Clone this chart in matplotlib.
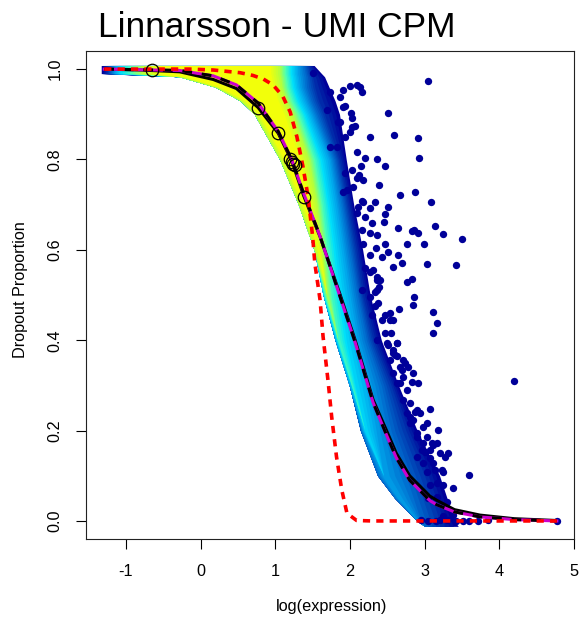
import matplotlib
matplotlib.use('Agg')
import matplotlib.pyplot as plt
import matplotlib.colors as mcolors
import numpy as np

plt.rcParams['font.family'] = ['Liberation Sans', 'DejaVu Sans']

# ---------------- data ----------------
title = "Linnarsson - UMI CPM"
xlabel = "log(expression)"
ylabel = "Dropout Proportion"
xticks = [-1, 0, 1, 2, 3, 4, 5]
yticks = [0.0, 0.2, 0.4, 0.6, 0.8, 1.0]

# dense point cloud, described as nested density regions (outer -> inner)
band_y = [1.008, 0.99, 0.983, 0.96, 0.93, 0.9, 0.8, 0.7, 0.6, 0.5, 0.4, 0.3, 0.2, 0.1, 0.05, 0.0, -0.012]
lvl0_left  = [-1.33, -1.33, -0.28, 0.20, 0.53, 0.72, 1.06, 1.31, 1.52, 1.64, 1.80, 1.99, 2.14, 2.37, 2.60, 2.90, 3.00]
lvl0_right = [1.52, 1.62, 1.66, 1.72, 1.80, 1.86, 1.95, 2.05, 2.17, 2.27, 2.42, 2.65, 2.90, 3.20, 3.30, 3.40, 3.45]
lvl1_left  = [-1.25, -1.25, -0.28, 0.20, 0.53, 0.72, 1.06, 1.31, 1.52, 1.64, 1.80, 1.99, 2.14, 2.37, 2.60, 2.90, 3.00]
lvl1_right = [1.45, 1.48, 1.50, 1.53, 1.58, 1.66, 1.86, 1.97, 2.08, 2.17, 2.31, 2.55, 2.75, 3.00, 3.10, 3.20, 3.20]
lvl2_left  = [-1.20, -1.20, -0.28, 0.20, 0.53, 0.72, 1.06, 1.31, 1.52, 1.64, 1.80, 1.99, 2.14, 2.37, 2.60, 2.90, 3.00]
lvl2_right = [1.38, 1.40, 1.41, 1.42, 1.48, 1.56, 1.79, 1.90, 2.00, 2.10, 2.22, 2.42, 2.55, 2.75, 2.85, 2.95, 3.00]
lvl3_left  = [-1.15, -1.15, -0.28, 0.20, 0.53, 0.72, 1.06, 1.31, 1.52, 1.64, 1.80, 1.99, 2.17, 2.45, 2.65, 2.90, 3.00]
lvl3_right = [1.30, 1.30, 1.31, 1.33, 1.40, 1.48, 1.72, 1.82, 1.91, 2.00, 2.10, 2.25, 2.35, 2.45, 2.65, 2.90, 3.00]
lvl4_left  = [-1.08, -1.08, -0.28, 0.20, 0.53, 0.72, 1.06, 1.31, 1.52, 1.64, 1.82, 2.02, 2.20, 2.45, 2.65, 2.90, 3.00]
lvl4_right = [1.22, 1.22, 1.23, 1.25, 1.31, 1.40, 1.62, 1.72, 1.80, 1.87, 1.95, 2.07, 2.20, 2.45, 2.65, 2.90, 3.00]
lvl5_left  = [-0.95, -0.95, -0.28, 0.20, 0.53, 0.72, 1.06, 1.31, 1.52, 1.66, 1.84, 2.02, 2.20, 2.45, 2.65, 2.90, 3.00]
lvl5_right = [1.14, 1.14, 1.15, 1.17, 1.23, 1.32, 1.53, 1.63, 1.70, 1.75, 1.84, 2.02, 2.20, 2.45, 2.65, 2.90, 3.00]
lvl6_left  = [-0.80, -0.80, -0.28, 0.20, 0.53, 0.72, 1.06, 1.31, 1.52, 1.69, 1.84, 2.02, 2.20, 2.45, 2.65, 2.90, 3.00]
lvl6_right = [1.06, 1.06, 1.07, 1.09, 1.15, 1.24, 1.45, 1.56, 1.63, 1.69, 1.84, 2.02, 2.20, 2.45, 2.65, 2.90, 3.00]
lvl7_left  = [-0.60, -0.60, -0.20, 0.26, 0.60, 0.79, 1.12, 1.37, 1.58, 1.69, 1.84, 2.02, 2.20, 2.45, 2.65, 2.90, 3.00]
lvl7_right = [0.94, 0.94, 0.95, 0.98, 1.04, 1.12, 1.33, 1.46, 1.58, 1.69, 1.84, 2.02, 2.20, 2.45, 2.65, 2.90, 3.00]
level_colors = ['#000099', '#0038B0', '#0070D0', '#00A8EC', '#00E0FA', '#50FFB0', '#B8FF38', '#F2FF0A']

# sparse low-density genes (individual points)
sparse_x = [1.509, 3.040, 2.513, 2.268, 2.593, 2.910, 2.928, 2.361, 2.465, 2.391, 2.673, 2.866, 3.080, 2.335,
            2.513, 2.469, 2.459, 2.639, 2.861, 2.914, 2.826, 3.138, 3.249, 3.495, 2.995, 2.759, 2.344, 2.469,
            2.513, 2.647, 2.424, 3.037, 3.419, 2.703, 2.580, 2.268, 2.357, 2.759, 2.826, 2.392, 2.335, 2.861,
            2.839, 2.660, 2.535, 3.115, 2.580, 2.469, 3.161, 3.107, 2.545, 2.469, 2.625, 2.513, 2.335, 2.290,
            2.602, 2.714, 2.692, 2.780, 2.847, 2.914, 2.826, 2.669, 4.195, 3.071, 2.937, 2.870, 3.027, 3.182,
            2.803, 2.893, 2.981, 3.094, 3.205, 3.316, 3.071, 3.004, 3.138, 3.249, 3.027, 3.597, 3.383, 3.249,
            3.071, 3.161, 3.294, 3.048, 3.383, 3.517, 3.718, 3.249, 4.767, 3.272, 3.228, 2.960, 3.115, 2.736,
            2.803, 2.625, 2.580, 3.205,
            2.134, 2.157, 2.000, 1.866, 1.933, 2.013, 2.023, 2.067, 1.843, 2.000, 2.090, 2.201, 2.147, 2.023,
            2.124, 2.178, 1.910, 2.044, 2.157, 2.090, 1.910, 1.732, 1.688, 1.910, 2.023, 1.866, 1.933, 1.732,
            1.822, 2.090, 1.933, 1.956, 2.178, 2.111, 2.268, 2.201, 2.290, 2.090, 2.157, 2.268, 2.357, 2.178,
            2.268, 2.201, 2.357, 2.157,
            2.312, 2.402, 2.357, 2.268, 2.379, 2.424, 2.535, 2.357, 2.491, 2.580, 2.625, 2.535, 2.669, 2.580,
            2.714, 2.625, 2.759, 2.714, 2.803, 2.893, 2.759, 2.847, 2.981, 2.893, 3.027, 3.071, 3.161, 2.893,
            2.981, 3.115, 3.161,
            2.95, 3.05, 3.15, 3.30, 3.42, 3.60, 3.85]
sparse_y = [0.992, 0.973, 0.902, 0.850, 0.854, 0.848, 0.804, 0.802, 0.785, 0.744, 0.721, 0.727, 0.705, 0.706,
            0.695, 0.679, 0.662, 0.649, 0.644, 0.637, 0.642, 0.653, 0.634, 0.623, 0.613, 0.612, 0.603, 0.612,
            0.596, 0.588, 0.585, 0.568, 0.566, 0.570, 0.561, 0.552, 0.533, 0.529, 0.535, 0.517, 0.507, 0.495,
            0.478, 0.468, 0.461, 0.463, 0.445, 0.456, 0.437, 0.415, 0.417, 0.415, 0.394, 0.389, 0.476, 0.456,
            0.367, 0.356, 0.334, 0.341, 0.327, 0.306, 0.308, 0.305, 0.310, 0.247, 0.238, 0.242, 0.216, 0.201,
            0.216, 0.194, 0.172, 0.172, 0.151, 0.150, 0.139, 0.153, 0.113, 0.109, 0.109, 0.102, 0.072, 0.080,
            0.080, 0.054, 0.043, 0.050, 0.013, 0.001, 0.000, 0.010, 0.000, 0.142, 0.113, 0.157, 0.168, 0.349,
            0.231, 0.393, 0.371, 0.002,
            0.961, 0.950, 0.963, 0.939, 0.919, 0.903, 0.891, 0.874, 0.883, 0.860, 0.817, 0.804, 0.786, 0.777,
            0.765, 0.754, 0.729, 0.740, 0.708, 0.965, 0.954, 0.950, 0.909, 0.917, 0.872, 0.883, 0.850, 0.828,
            0.828, 0.758, 0.769, 0.732, 0.706, 0.695, 0.692, 0.673, 0.659, 0.681, 0.644, 0.637, 0.633, 0.614,
            0.588, 0.559, 0.540, 0.511,
            0.555, 0.533, 0.511, 0.496, 0.482, 0.445, 0.445, 0.400, 0.393, 0.378, 0.364, 0.356, 0.341, 0.327,
            0.319, 0.305, 0.290, 0.268, 0.260, 0.246, 0.238, 0.223, 0.209, 0.186, 0.186, 0.157, 0.172, 0.142,
            0.128, 0.128, 0.083,
            0.003, 0.000, 0.000, 0.002, 0.000, 0.000, 0.002]

# fitted curves
mm_x = [-1.29, -0.80, -0.28, 0.17, 0.48, 0.77, 1.04, 1.22, 1.38, 1.60, 1.87, 2.07, 2.31, 2.49, 2.62, 2.80, 3.07, 3.16, 3.40, 3.74, 4.20, 4.77]
mm_y = [1.000, 0.998, 0.994, 0.977, 0.957, 0.915, 0.858, 0.797, 0.720, 0.629, 0.500, 0.400, 0.268, 0.200, 0.150, 0.100, 0.055, 0.046, 0.025, 0.013, 0.005, 0.001]
alt_x = [-1.29, -0.28, 0.17, 0.48, 0.77, 1.04, 1.22, 1.38, 1.60, 1.87, 2.07, 2.31, 2.49, 2.62, 2.80, 3.07, 3.16, 3.40, 3.74, 4.20, 4.77]
alt_y = [1.000, 0.997, 0.985, 0.965, 0.925, 0.862, 0.800, 0.725, 0.630, 0.495, 0.395, 0.262, 0.190, 0.140, 0.090, 0.045, 0.036, 0.020, 0.009, 0.003, 0.000]
zifa_x = [-1.29, -0.14, 0.17, 0.53, 0.70, 0.84, 0.97, 1.10, 1.20, 1.29, 1.37, 1.44, 1.50, 1.53, 1.60, 1.64, 1.71, 1.755, 1.82, 1.89, 1.96, 2.09, 2.30, 4.77]
zifa_y = [1.000, 1.000, 0.998, 0.992, 0.986, 0.978, 0.965, 0.940, 0.905, 0.850, 0.785, 0.717, 0.630, 0.570, 0.489, 0.408, 0.305, 0.231, 0.142, 0.069, 0.017, 0.001, 0.000, 0.000]

# highlighted genes (open circles)
hl_x = [-0.655, 0.772, 1.040, 1.197, 1.220, 1.241, 1.264, 1.384]
hl_y = [0.999, 0.913, 0.858, 0.802, 0.795, 0.791, 0.788, 0.716]

# ---------------- drawing ----------------
fig = plt.figure(figsize=(5.81, 6.20), dpi=100)
ax = fig.add_axes([0.148, 0.1306, 0.840, 0.7871])

levels = [(lvl0_left, lvl0_right), (lvl1_left, lvl1_right), (lvl2_left, lvl2_right),
          (lvl3_left, lvl3_right), (lvl4_left, lvl4_right), (lvl5_left, lvl5_right),
          (lvl6_left, lvl6_right), (lvl7_left, lvl7_right)]

# smooth the density shading: blend between neighbouring density regions
n_sub = 4
for k in range(len(levels)):
    lft0, rgt0 = np.array(levels[k][0]), np.array(levels[k][1])
    c0 = np.array(mcolors.to_rgb(level_colors[k]))
    if k + 1 < len(levels):
        lft1, rgt1 = np.array(levels[k + 1][0]), np.array(levels[k + 1][1])
        c1 = np.array(mcolors.to_rgb(level_colors[k + 1]))
        steps = n_sub
    else:
        lft1, rgt1, c1, steps = lft0, rgt0, c0, 1
    for j in range(steps):
        f = j / n_sub if steps > 1 else 0.0
        lft = lft0 + f * (lft1 - lft0)
        rgt = rgt0 + f * (rgt1 - rgt0)
        col = c0 + f * (c1 - c0)
        ax.fill_betweenx(band_y, lft, rgt, color=col, lw=0, zorder=1)

ax.scatter(sparse_x, sparse_y, s=28, c='#000099', linewidths=0, zorder=2)

lw = 2.2
ax.plot(mm_x, mm_y, color='black', lw=lw, zorder=3, solid_capstyle='butt')
ax.plot(alt_x, alt_y, color='#CC00CC', lw=lw, zorder=4)
ax.plot(alt_x, alt_y, color='black', lw=lw, zorder=5, linestyle=(0, (3.2, 3.2)))
ax.plot(zifa_x, zifa_y, color='#FF0000', lw=2.6, zorder=6, linestyle=(0, (2.0, 1.7)))
ax.plot(hl_x, hl_y, linestyle='none', marker='o', markersize=9, markerfacecolor='none',
        markeredgecolor='black', markeredgewidth=0.9, zorder=7)

ax.set_xlim(-1.534, 5.0)
ax.set_ylim(-0.04, 1.04)
ax.set_xticks(xticks)
ax.set_xticklabels([str(t) for t in xticks])
ax.set_yticks(yticks)
ax.set_yticklabels([f"{t:.1f}" for t in yticks], rotation=90, va='center')
ax.tick_params(axis='both', direction='out', length=7, width=0.8, labelsize=11.7, colors='black')
ax.tick_params(axis='x', pad=11)
ax.tick_params(axis='y', pad=10)
for s in ax.spines.values():
    s.set_linewidth(0.8)
    s.set_color('#222222')

fig.text(332/581, 1 - 607/620, xlabel, ha='center', va='center', fontsize=11.7)
fig.text(21/581, 1 - 290/620, ylabel, ha='center', va='center', rotation=90, fontsize=11.7)
fig.text(98/581, 1 - 37.3/620, title, ha='left', va='baseline', fontsize=25.5)

fig.savefig('out.png', dpi=100)
